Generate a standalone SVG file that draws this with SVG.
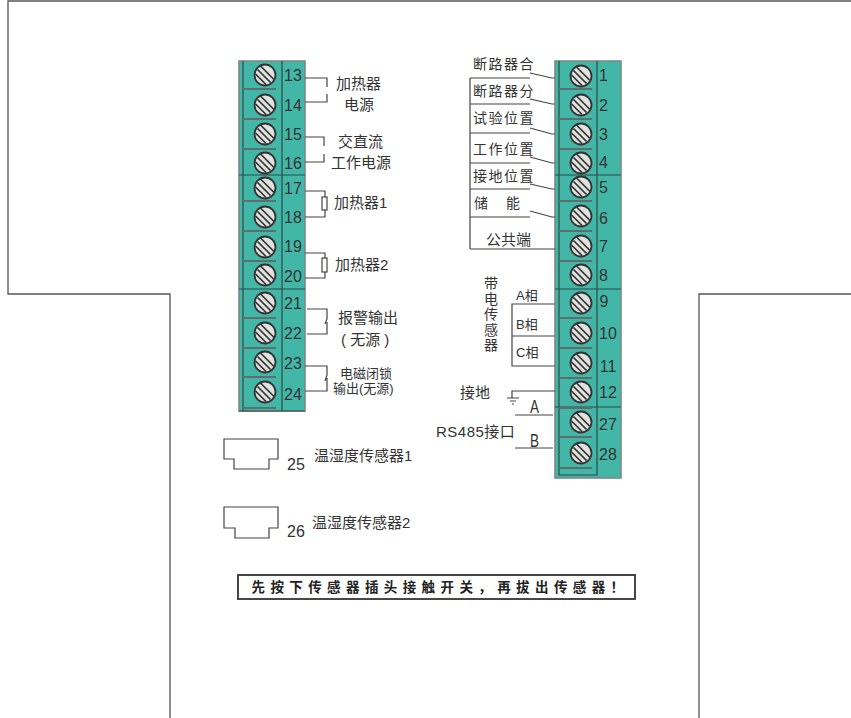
<svg xmlns="http://www.w3.org/2000/svg" width="851" height="718" viewBox="0 0 851 718">
<style>
svg{font-size:15px;fill:#333}
text{font-family:"Liberation Sans","Noto Sans CJK SC",sans-serif}
.n{font-size:16px;text-anchor:middle}
.r{font-size:14px;letter-spacing:1.500px}
.l{fill:none;stroke:#444;stroke-width:1.2}
.o{fill:none;stroke:#555;stroke-width:1.3}
.body{fill:#43b7a7;stroke:#7b8a86;stroke-width:1.6}
.d{stroke:#2f4a45;stroke-width:1.2;fill:none}
.bar{stroke:#5c6f6a;stroke-width:1.8}
</style>
<defs>
<g id="screw">
<circle r="10.5" fill="#dfe2df" stroke="#333" stroke-width="1.800"/>
<path d="M-7.500-5.500 5.500 7.500M-4.500-9 9 4.500M-9.500-1 1 9.500" stroke="#333" stroke-width="1.700" fill="none"/>
</g>
</defs>
<rect width="851" height="718" fill="#fff"/>
<path id="outline" class="o" d="M851 1H8V294H170V718M851 294H699V718"/>

<g id="left-strip">
<rect class="body" x="239" y="61" width="66" height="350"/>
<path class="d" d="M243 61V411M282 61V411M239 175H305M239 289H305M239 411H305"/>
<path class="bar" d="M243 89H276M243 119H276M243 149H276M243 201H276M243 231H276M243 261H276M243 318H276M243 348H276M243 377H276M243 408H276"/>
</g>
<g id="left-screws">
<use href="#screw" x="265" y="75"/><use href="#screw" x="265" y="105"/><use href="#screw" x="265" y="134"/><use href="#screw" x="265" y="163"/><use href="#screw" x="265" y="188"/><use href="#screw" x="265" y="217"/><use href="#screw" x="265" y="247"/><use href="#screw" x="265" y="275"/><use href="#screw" x="265" y="303"/><use href="#screw" x="265" y="333"/><use href="#screw" x="265" y="362"/><use href="#screw" x="265" y="392"/>
</g>
<g id="left-numbers">
<text class="n" x="293" y="81">13</text><text class="n" x="293" y="111">14</text><text class="n" x="293" y="140">15</text><text class="n" x="293" y="169">16</text><text class="n" x="293" y="194">17</text><text class="n" x="293" y="223">18</text><text class="n" x="293" y="252">19</text><text class="n" x="293" y="282">20</text><text class="n" x="293" y="309">21</text><text class="n" x="293" y="339">22</text><text class="n" x="293" y="369">23</text><text class="n" x="293" y="400">24</text>
</g>

<g id="right-strip">
<rect class="body" x="555" y="61" width="66" height="417"/>
<path class="d" d="M559 61V475H597V61M555 175H621M555 289H621M555 407H621"/>
<path class="bar" d="M559 89H592M559 119H592M559 149H592M559 201H592M559 231H592M559 261H592M559 318H592M559 348H592M559 378H592M559 408H592M559 437H592M559 468H592"/>
</g>
<g id="right-screws">
<use href="#screw" x="581" y="76"/><use href="#screw" x="581" y="105"/><use href="#screw" x="581" y="134"/><use href="#screw" x="581" y="163"/><use href="#screw" x="581" y="187"/><use href="#screw" x="581" y="216"/><use href="#screw" x="581" y="246"/><use href="#screw" x="581" y="275"/><use href="#screw" x="581" y="303"/><use href="#screw" x="581" y="333"/><use href="#screw" x="581" y="363"/><use href="#screw" x="581" y="392"/><use href="#screw" x="581" y="422"/><use href="#screw" x="581" y="453"/>
</g>
<g id="right-numbers">
<text class="n" x="603.500" y="81">1</text><text class="n" x="603.500" y="111">2</text><text class="n" x="603.500" y="140">3</text><text class="n" x="603.500" y="168">4</text><text class="n" x="603.500" y="193">5</text><text class="n" x="603.500" y="224">6</text><text class="n" x="603.500" y="252">7</text><text class="n" x="603.500" y="281">8</text><text class="n" x="604" y="307">9</text><text class="n" x="608" y="339">10</text><text class="n" x="608" y="372">11</text><text class="n" x="608" y="398">12</text><text class="n" x="608" y="430">27</text><text class="n" x="608" y="460">28</text>
</g>

<g id="connectors">
<path class="l" d="M305 78H327V87M327 94V102H305"/>
<path class="l" d="M305 137H324V146M324 154V162H305"/>
<path class="l" d="M305 191H325V197M325 210V217H305"/>
<rect class="l" x="322" y="197" width="5" height="13"/>
<path class="l" d="M305 253H325V258M325 272V278H305"/>
<rect class="l" x="322" y="258" width="5" height="14"/>
<path class="l" d="M307 309H327V319L325 324M327 322V334H307"/>
<path class="l" d="M305 366H327V375L325 381M327 378V391H305"/>
<path class="l" d="M530 73 552 78H555M470 78H530"/>
<path class="l" d="M470 78V249M470 104H530M530 99 552 104H555"/>
<path class="l" d="M470 133H530M530 128 552 134H555"/>
<path class="l" d="M470 163H530M530 157 552 163H555"/>
<path class="l" d="M470 189H530M530 184 552 189H555"/>
<path class="l" d="M470 217H530M530 211 552 217H555"/>
<path class="l" d="M470 249H555"/>
<path class="l" d="M555 304H512V366H555M512 336H555"/>
<path class="l" d="M555 391H512V398M507 398H519M510 401H516M512 404H514"/>
<path class="l" d="M515 415H553M515 448H553"/>
<path class="l" d="M224 439H278V459H269V469H234V459H224Z"/>
<path class="l" d="M224 507H278V528H269V538H235V528H224Z"/>
</g>

<g id="labels">
<text x="336" y="89">加热器</text>
<text x="344" y="110">电源</text>
<text x="338" y="147">交直流</text>
<text x="331" y="168">工作电源</text>
<text x="334" y="208">加热器1</text>
<text x="335" y="270">加热器2</text>
<text x="338" y="323">报警输出</text>
<text x="341" y="345" xml:space="preserve">( 无源 )</text>
<text><tspan x="340" y="378" font-size="13">电磁闭锁</tspan><tspan x="333" y="393" font-size="13">输出(无源)</tspan></text>
<text class="r" x="473" y="69">断路器合</text>
<text class="r" x="473" y="96">断路器分</text>
<text class="r" x="473" y="123">试验位置</text>
<text class="r" x="473" y="154">工作位置</text>
<text class="r" x="473" y="181">接地位置</text>
<text class="r" x="474" y="208">储</text>
<text class="r" x="506" y="208">能</text>
<text x="486" y="245">公共端</text>
<text x="490" y="276" style="writing-mode:vertical-rl;font-size:14px;letter-spacing:1.500px">带电传感器</text>
<text x="516" y="300" font-size="13">A相</text>
<text x="516" y="329" font-size="13">B相</text>
<text x="516" y="357" font-size="13">C相</text>
<text x="460" y="398">接地</text>
<text x="530" y="413" font-size="18" textLength="9" lengthAdjust="spacingAndGlyphs">A</text>
<text x="530" y="447" font-size="18" textLength="9" lengthAdjust="spacingAndGlyphs">B</text>
<text x="436" y="437" font-size="15" letter-spacing="0.500">RS485接口</text>
<text x="314" y="461">温湿度传感器1</text>
<text x="312" y="528">温湿度传感器2</text>
<text class="n" x="296" y="470">25</text>
<text class="n" x="296" y="537">26</text>
</g>

<g id="warning">
<rect x="238" y="575" width="397" height="24" fill="#fff" stroke="#333" stroke-width="1.800"/>
<text x="251.500" y="592" font-size="13.500" font-weight="700" letter-spacing="5.400" fill="#222">先按下传感器插头接触开关，再拔出传感器！</text>
</g>
</svg>
